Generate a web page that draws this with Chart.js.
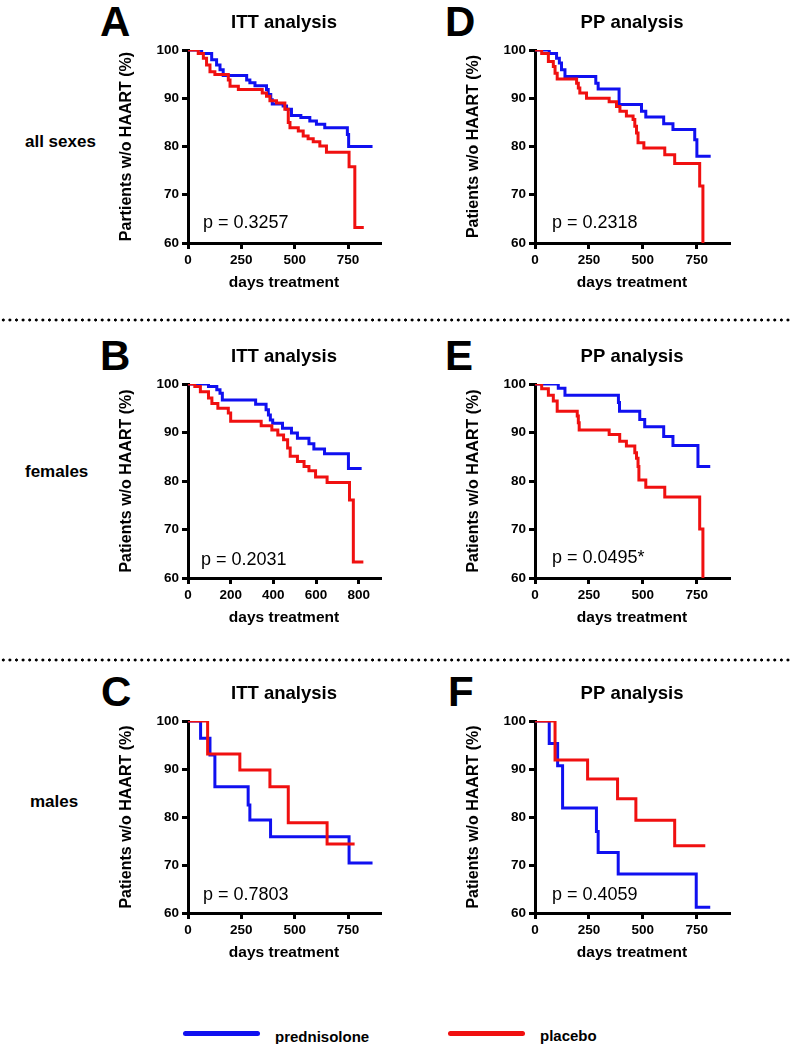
<!DOCTYPE html>
<html>
<head>
<meta charset="utf-8">
<script src="https://cdn.jsdelivr.net/npm/chart.js@4.4.0/dist/chart.umd.min.js"></script>
<style>
  body { margin: 0; background: #fff; font-family: 'Liberation Sans', Arial, sans-serif; }
  #page { position: relative; width: 791px; height: 1044px; overflow: hidden; background: #fff; }
  .abs { position: absolute; white-space: nowrap; line-height: 1; color: #000; }
  .letter { font-size: 42px; font-weight: bold; }
  .row { font-size: 17px; font-weight: bold; transform: translateY(-50%); }
  .pval { font-size: 18px; transform: translateY(-50%); }
  .dots { position: absolute; left: 0; width: 791px; height: 4px;
          background-image: radial-gradient(circle, #000 1.3px, transparent 1.8px);
          background-size: 6.6px 4px; }
  .leg { position: absolute; height: 5px; border-radius: 3px; }
  .legtxt { font-size: 15px; font-weight: bold; transform: translateY(-50%); }
  canvas { position: absolute; }
</style>
</head>
<body>
<div id="page">
  <div class="abs letter" style="left:100px; top:1px;">A</div>
  <div class="abs letter" style="left:445px; top:1px;">D</div>
  <div class="abs letter" style="left:100px; top:335px;">B</div>
  <div class="abs letter" style="left:445px; top:335px;">E</div>
  <div class="abs letter" style="left:101px; top:671px;">C</div>
  <div class="abs letter" style="left:448px; top:671px;">F</div>

  <div class="abs row" style="left:25px; top:141px;">all sexes</div>
  <div class="abs row" style="left:25px; top:471px;">females</div>
  <div class="abs row" style="left:30px; top:801px;">males</div>

  <div class="dots" style="top:318px;"></div>
  <div class="dots" style="top:658px;"></div>

  <div class="leg" style="left:183px; top:1031px; width:77px; background:#1010f0;"></div>
  <div class="abs legtxt" style="left:275px; top:1036px;">prednisolone</div>
  <div class="leg" style="left:448px; top:1031px; width:77px; background:#f01010;"></div>
  <div class="abs legtxt" style="left:540px; top:1035px;">placebo</div>
</div>

<script>
// tick labels
const xTicks250 = [0, 250, 500, 750];
const xTicks200 = [0, 200, 400, 600, 800];
const yTicks = [60, 70, 80, 90, 100];

// A - all sexes, ITT
const aPredDays = [0, 64, 111, 134, 150, 165, 275, 290, 314, 368, 376, 388, 395, 446, 462, 485, 529, 571, 602, 641, 747, 753, 865];
const aPredPct  = [100, 99.3, 98, 96.9, 95.9, 94.7, 93.8, 93.2, 92.6, 91.8, 90.8, 89.7, 88.8, 88.4, 87.7, 86.4, 86, 85.3, 84.6, 83.9, 82.5, 80, 80];
const aPlacDays = [0, 48, 72, 87, 103, 126, 189, 197, 236, 348, 368, 384, 415, 454, 470, 478, 517, 540, 563, 587, 618, 649, 755, 782, 824];
const aPlacPct  = [100, 99.3, 98.3, 96.9, 95.5, 94.9, 93.8, 92.5, 91.8, 91.1, 90.4, 89.5, 89, 87.7, 85, 83.9, 83.2, 82.2, 81.6, 81, 80.1, 78.8, 75.8, 63.2, 63.2];

// D - all sexes, PP
const dPredDays = [0, 66, 100, 113, 123, 139, 282, 293, 390, 494, 514, 597, 640, 741, 751, 815];
const dPredPct  = [100, 99.3, 98.3, 97.3, 95.9, 94.5, 93.1, 91.9, 88.7, 87.3, 86.1, 84.7, 83.5, 81.4, 78, 78];
const dPlacDays = [0, 31, 62, 85, 93, 103, 193, 201, 208, 239, 344, 378, 394, 424, 455, 463, 471, 478, 505, 602, 648, 764, 779];
const dPlacPct  = [100, 99.3, 97.6, 96.6, 95.2, 94, 93.1, 92.1, 91.1, 90, 89.3, 88.3, 87.3, 86.3, 85.6, 84.2, 82.8, 80.8, 79.7, 78.3, 76.5, 71.8, 60];

// B - females, ITT
const bPredDays = [0, 96, 135, 150, 161, 317, 366, 377, 386, 397, 443, 485, 513, 567, 590, 640, 752, 814];
const bPredPct  = [100, 99.5, 98.8, 98.1, 96.7, 95.8, 94.7, 93.6, 92.6, 91.9, 90.9, 89.9, 88.8, 87.7, 86.6, 85.6, 82.6, 82.6];
const bPlacDays = [0, 32, 58, 96, 112, 140, 189, 200, 343, 393, 421, 448, 467, 479, 513, 544, 567, 598, 652, 757, 775, 822];
const bPlacPct  = [100, 99.5, 98.4, 97.1, 96, 95, 94, 92.3, 91.4, 90.5, 89.5, 88.5, 86.8, 85.1, 84, 83, 82.1, 80.8, 79.7, 76.1, 63.3, 63.3];

// E - females, PP
const ePredDays = [0, 108, 139, 387, 392, 486, 509, 597, 640, 756, 813];
const ePredPct  = [100, 99.1, 97.7, 96.2, 94.4, 92.7, 91.2, 89.2, 87.3, 83, 83];
const ePlacDays = [0, 31, 62, 85, 103, 196, 201, 205, 344, 393, 424, 463, 471, 478, 482, 514, 602, 764, 779];
const ePlacPct  = [100, 99, 97.7, 96.5, 94.4, 93.4, 92, 90.5, 89.6, 88.2, 87.2, 85.8, 84.7, 83, 80.2, 78.7, 76.7, 70.1, 60];

// C - males, ITT
const cPredDays = [0, 59, 103, 126, 282, 290, 387, 755, 865];
const cPredPct  = [100, 96.4, 92.9, 86.3, 82.5, 79.4, 75.9, 70.4, 70.4];
const cPlacDays = [0, 92, 243, 384, 470, 652, 781];
const cPlacPct  = [100, 93.1, 89.8, 86.3, 78.8, 74.4, 74.4];

// F - males, PP
const fPredDays = [0, 66, 105, 128, 285, 293, 386, 748, 813];
const fPredPct  = [100, 95.3, 90.7, 81.9, 77, 72.6, 68.1, 61.2, 61.2];
const fPlacDays = [0, 93, 244, 383, 468, 648, 790];
const fPlacPct  = [100, 91.9, 87.9, 83.8, 79.3, 74, 74];

const pValues = ['p = 0.3257', 'p = 0.2318', 'p = 0.2031', 'p = 0.0495*', 'p = 0.7803', 'p = 0.4059'];

const FONT = "'Liberation Sans', Arial, sans-serif";
const BLUE = '#1010f0';
const RED = '#f01010';

// layout of each panel: plot box in page pixels
const panels = [
  { x0: 188, x1: 380, y0: 50,  y1: 243, title: 'ITT analysis', ticks: xTicks250, pred: [aPredDays, aPredPct], plac: [aPlacDays, aPlacPct], p: pValues[0], px: 203, py: 222, ytitle: 'Partients w/o HAART (%)' },
  { x0: 535, x1: 729, y0: 50,  y1: 243, title: 'PP analysis',  ticks: xTicks250, pred: [dPredDays, dPredPct], plac: [dPlacDays, dPlacPct], p: pValues[1], px: 552, py: 222, ytitle: 'Patients w/o HAART (%)' },
  { x0: 188, x1: 380, y0: 384, y1: 578, title: 'ITT analysis', ticks: xTicks200, pred: [bPredDays, bPredPct], plac: [bPlacDays, bPlacPct], p: pValues[2], px: 201, py: 559, ytitle: 'Patients w/o HAART (%)' },
  { x0: 535, x1: 729, y0: 384, y1: 578, title: 'PP analysis',  ticks: xTicks250, pred: [ePredDays, ePredPct], plac: [ePlacDays, ePlacPct], p: pValues[3], px: 552, py: 557, ytitle: 'Patients w/o HAART (%)' },
  { x0: 188, x1: 380, y0: 721, y1: 913, title: 'ITT analysis', ticks: xTicks250, pred: [cPredDays, cPredPct], plac: [cPlacDays, cPlacPct], p: pValues[4], px: 203, py: 894, ytitle: 'Patients w/o HAART (%)' },
  { x0: 535, x1: 729, y0: 721, y1: 913, title: 'PP analysis',  ticks: xTicks250, pred: [fPredDays, fPredPct], plac: [fPlacDays, fPlacPct], p: pValues[5], px: 552, py: 894, ytitle: 'Patients w/o HAART (%)' }
];

const X_MAX = 900;
const Y_AXIS_W = 88;
const X_AXIS_H = 52;

function toPoints(days, pct) {
  return days.map((d, i) => ({ x: d, y: pct[i] }));
}

function makePanel(cfg) {
  const page = document.getElementById('page');
  const left = cfg.x0 - Y_AXIS_W;
  const top = cfg.y0 - 50;
  const w = cfg.x1 - left + 10;
  const h = cfg.y1 - top + X_AXIS_H + 2;

  const canvas = document.createElement('canvas');
  canvas.width = w;
  canvas.height = h;
  canvas.style.left = left + 'px';
  canvas.style.top = top + 'px';
  canvas.style.width = w + 'px';
  canvas.style.height = h + 'px';
  page.appendChild(canvas);

  const axisStyle = {
    grid: { drawOnChartArea: false, drawTicks: true, tickLength: 6, color: '#000', lineWidth: 3 },
    border: { display: true, color: '#000', width: 3 }
  };

  new Chart(canvas.getContext('2d'), {
    type: 'line',
    data: {
      datasets: [
        { label: 'placebo', data: toPoints(cfg.plac[0], cfg.plac[1]), borderColor: RED, borderWidth: 3, stepped: 'before', pointRadius: 0, fill: false },
        { label: 'prednisolone', data: toPoints(cfg.pred[0], cfg.pred[1]), borderColor: BLUE, borderWidth: 3, stepped: 'before', pointRadius: 0, fill: false }
      ]
    },
    options: {
      responsive: false,
      animation: false,
      devicePixelRatio: 1,
      layout: { padding: { left: 0, right: 10, top: 0, bottom: 2 } },
      plugins: {
        legend: { display: false },
        tooltip: { enabled: false },
        title: {
          display: true,
          fullSize: false,   // centre the title over the plot, not the canvas
          text: cfg.title,
          color: '#000',
          font: { family: FONT, size: 18.5, weight: 'bold' },
          padding: { top: 12, bottom: 15.8 }
        }
      },
      scales: {
        x: Object.assign({
          type: 'linear',
          min: 0,
          max: X_MAX,
          afterBuildTicks: (scale) => { scale.ticks = cfg.ticks.map(v => ({ value: v })); },
          afterFit: (scale) => { scale.height = X_AXIS_H; },
          ticks: { color: '#000', font: { family: FONT, size: 13.5, weight: 'bold' }, padding: 3, maxRotation: 0 },
          title: { display: true, text: 'days treatment', color: '#000', font: { family: FONT, size: 15.5, weight: 'bold' }, padding: { top: 0, bottom: 2.7 } }
        }, axisStyle),
        y: Object.assign({
          type: 'linear',
          min: 60,
          max: 100,
          afterBuildTicks: (scale) => { scale.ticks = yTicks.map(v => ({ value: v })); },
          afterFit: (scale) => { scale.width = Y_AXIS_W; },
          ticks: { color: '#000', font: { family: FONT, size: 13.5, weight: 'bold' }, padding: 3 },
          title: { display: true, text: cfg.ytitle, color: '#000', font: { family: FONT, size: 16, weight: 'bold' }, padding: { top: 17, bottom: 0 } }
        }, axisStyle)
      }
    }
  });

  const p = document.createElement('div');
  p.className = 'abs pval';
  p.style.left = cfg.px + 'px';
  p.style.top = cfg.py + 'px';
  p.textContent = cfg.p;
  page.appendChild(p);
}

panels.forEach(makePanel);
</script>
</body>
</html>
